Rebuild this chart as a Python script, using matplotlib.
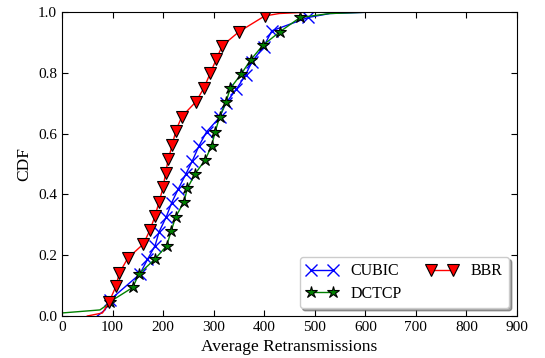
import numpy as np
import matplotlib.pyplot as plt

plt.rcParams['font.family'] = ['Liberation Serif', 'DejaVu Serif']
plt.rcParams['mathtext.fontset'] = 'stix'

# BBR: line head, marked points, line tail
bbr_head_x = [50, 80]
bbr_head_y = [0.0, 0.01]
bbr_x = [93, 107, 113, 130, 161, 174, 184, 192, 200, 205, 210, 218, 225, 237,
         265, 281, 293, 305, 317, 350, 401]
bbr_y = [0.046, 0.099, 0.14, 0.19, 0.237, 0.283, 0.329, 0.376, 0.423, 0.471,
         0.515, 0.562, 0.609, 0.656, 0.705, 0.751, 0.798, 0.844, 0.889, 0.935, 0.987]
bbr_tail_x = [430, 480, 600, 840]
bbr_tail_y = [0.995, 0.999, 1.0, 1.0]

# CUBIC
cubic_head_x = [70, 85]
cubic_head_y = [0.0, 0.02]
cubic_x = [95, 154, 169, 184, 192, 206, 217, 230, 245, 258, 271, 286, 312, 324,
           345, 363, 376, 399, 415, 487]
cubic_y = [0.053, 0.138, 0.186, 0.231, 0.277, 0.325, 0.373, 0.418, 0.467, 0.511,
           0.560, 0.606, 0.654, 0.700, 0.746, 0.793, 0.837, 0.886, 0.938, 0.982]
cubic_tail_x = [530, 600, 840]
cubic_tail_y = [0.995, 0.999, 1.0]

# DCTCP
dctcp_head_x = [0, 75, 88]
dctcp_head_y = [0.01, 0.02, 0.035]
dctcp_x = [95, 140, 152, 183, 207, 216, 225, 241, 248, 263, 283, 296, 303, 312,
           324, 333, 354, 373, 397, 431, 471]
dctcp_y = [0.047, 0.094, 0.138, 0.186, 0.231, 0.280, 0.327, 0.374, 0.420, 0.467,
           0.513, 0.560, 0.606, 0.656, 0.703, 0.749, 0.795, 0.842, 0.890, 0.935, 0.982]
dctcp_tail_x = [530, 600, 840]
dctcp_tail_y = [0.995, 0.999, 1.0]

xticks = [0, 100, 200, 300, 400, 500, 600, 700, 800, 900]
yticks = [0.0, 0.2, 0.4, 0.6, 0.8, 1.0]


def series(hx, hy, mx, my, tx, ty):
    x = np.array(hx + mx + tx, dtype=float)
    y = np.array(hy + my + ty, dtype=float)
    marks = slice(len(hx), len(hx) + len(mx))
    return x, y, marks


fig = plt.figure(figsize=(5.45, 3.58), dpi=100)
ax = fig.add_axes([0.1138, 0.1173, 0.8348, 0.8492])

x, y, m = series(cubic_head_x, cubic_head_y, cubic_x, cubic_y, cubic_tail_x, cubic_tail_y)
ax.plot(x, y, color='b', lw=1, marker='x', ms=9, mew=1.0, markevery=m, label='CUBIC')

x, y, m = series(dctcp_head_x, dctcp_head_y, dctcp_x, dctcp_y, dctcp_tail_x, dctcp_tail_y)
ax.plot(x, y, color='g', lw=1, marker='*', ms=9, mfc='g', mec='k', mew=0.8,
        markevery=m, label='DCTCP')

x, y, m = series(bbr_head_x, bbr_head_y, bbr_x, bbr_y, bbr_tail_x, bbr_tail_y)
ax.plot(x, y, color='r', lw=1, marker='v', ms=9, mfc='r', mec='k', mew=0.8,
        markevery=m, label='BBR')

ax.set_xlim(0, 900)
ax.set_ylim(0, 1.0)
ax.set_xticks(xticks)
ax.set_yticks(yticks)
ax.set_yticklabels(['%.1f' % v for v in yticks])
ax.tick_params(direction='in', top=True, right=True, labelsize=11, length=4)
ax.set_xlabel('Average Retransmissions', fontsize=12.5)
ax.set_ylabel('CDF', fontsize=12.5)

ax.legend(loc='lower right', ncol=2, numpoints=2, fancybox=True, shadow=True,
          fontsize=11.5, handlelength=2.0, columnspacing=1.5, borderaxespad=0.5,
          handletextpad=0.8, labelspacing=0.4)

fig.savefig('out.png', dpi=100)
